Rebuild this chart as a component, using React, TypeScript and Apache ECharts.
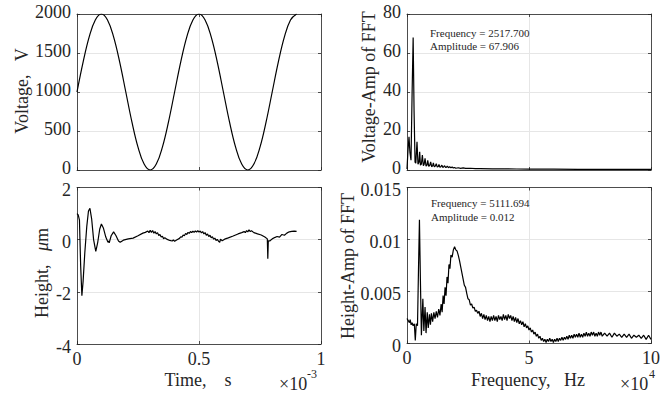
import React, { useEffect, useRef } from "react";
import * as echarts from "echarts";

// ---------- DATA ----------
// Voltage signal (time in ms, value in V)
const voltageTime = [
  0, 0.025, 0.05, 0.075, 0.1, 0.125, 0.15, 0.175, 0.2, 0.225, 0.25, 0.275, 0.3,
  0.325, 0.35, 0.375, 0.4, 0.425, 0.45, 0.475, 0.5, 0.525, 0.55, 0.575, 0.6,
  0.625, 0.65, 0.675, 0.7, 0.725, 0.75, 0.775, 0.8, 0.825, 0.85, 0.875, 0.9,
];
const voltageValues = [
  1000, 1383, 1707, 1924, 2000, 1924, 1707, 1383, 1000, 617, 293, 76, 0, 76,
  293, 617, 1000, 1383, 1707, 1924, 2000, 1924, 1707, 1383, 1000, 617, 293, 76,
  0, 76, 293, 617, 1000, 1383, 1707, 1924, 2000,
];

// Height signal (time in ms, value in μm)
const heightPoints: [number, number][] = [
  [0.0, 1.0], [0.005, 0.95], [0.01, 0.75], [0.015, -1.0], [0.02, -2.15],
  [0.025, -1.6], [0.032, -0.5], [0.04, 0.5], [0.047, 1.1], [0.053, 1.2],
  [0.06, 0.8], [0.068, 0.0], [0.077, -0.45], [0.085, -0.1], [0.093, 0.4],
  [0.1, 0.6], [0.108, 0.45], [0.118, 0.1], [0.127, -0.1], [0.13, -0.05],
  [0.132, -0.12], [0.14, 0.15], [0.15, 0.3], [0.16, 0.15], [0.17, -0.05],
  [0.177, -0.1], [0.19, -0.02], [0.21, 0.03], [0.23, 0.06], [0.25, 0.15],
  [0.27, 0.25], [0.28, 0.28], [0.29, 0.33], [0.295, 0.27], [0.3, 0.36],
  [0.305, 0.28], [0.31, 0.35], [0.315, 0.25], [0.32, 0.31], [0.325, 0.22],
  [0.33, 0.27], [0.335, 0.16], [0.34, 0.2], [0.345, 0.1], [0.35, 0.13],
  [0.355, 0.04], [0.36, 0.07], [0.37, 0.01], [0.38, -0.03], [0.39, -0.05],
  [0.395, -0.01], [0.4, -0.06], [0.41, 0.0], [0.42, 0.05], [0.425, 0.11],
  [0.43, 0.09], [0.435, 0.18], [0.44, 0.15], [0.445, 0.24], [0.45, 0.2],
  [0.455, 0.28], [0.46, 0.24], [0.465, 0.31], [0.47, 0.27], [0.475, 0.33],
  [0.48, 0.28], [0.485, 0.34], [0.49, 0.29], [0.495, 0.35], [0.5, 0.29],
  [0.505, 0.33], [0.51, 0.26], [0.515, 0.31], [0.52, 0.22], [0.525, 0.27],
  [0.53, 0.17], [0.535, 0.22], [0.54, 0.12], [0.545, 0.17], [0.55, 0.07],
  [0.555, 0.11], [0.56, 0.02], [0.565, 0.06], [0.57, -0.03], [0.575, 0.01],
  [0.58, -0.06], [0.585, -0.1], [0.588, 0.02], [0.595, -0.04], [0.605, 0.02],
  [0.62, 0.07], [0.64, 0.14], [0.66, 0.22], [0.675, 0.27], [0.685, 0.31],
  [0.69, 0.27], [0.695, 0.35], [0.7, 0.3], [0.705, 0.38], [0.71, 0.31],
  [0.715, 0.34], [0.725, 0.27], [0.74, 0.22], [0.755, 0.18], [0.77, 0.1],
  [0.78, 0.03], [0.782, -0.73], [0.784, -0.05], [0.79, -0.05], [0.8, 0.03],
  [0.81, 0.08], [0.82, 0.12], [0.83, 0.1], [0.84, 0.2], [0.85, 0.17],
  [0.86, 0.25], [0.87, 0.3], [0.88, 0.32], [0.89, 0.33], [0.9, 0.32],
];

// Voltage FFT (frequency in Hz, amplitude)
const voltageFftPoints: [number, number][] = [
  [0, 0.5], [400, 10], [820, 17], [1200, 9], [1640, 5], [2100, 40], [2520, 68],
  [2900, 30], [3300, 4], [3600, 3.5], [4100, 14.5], [4500, 3], [4900, 4],
  [5200, 9.4], [5500, 2.5], [5900, 3], [6300, 7.7], [6700, 2.2], [7000, 2.8],
  [7400, 6], [7800, 2], [8200, 2.5], [8500, 5], [8900, 1.9], [9300, 2.3],
  [9700, 4.2], [10100, 1.7], [10500, 2.1], [10800, 3.6], [11200, 1.6],
  [11600, 2], [12000, 3.2], [12400, 1.5], [12800, 1.8], [13100, 2.8],
  [13500, 1.4], [13900, 1.7], [14300, 2.5], [14700, 1.3], [15000, 1.6],
  [15400, 2.2], [15800, 1.3], [16200, 1.5], [16500, 2], [17000, 1.2],
  [17500, 1.7], [18000, 1.1], [18500, 1.5], [19000, 1.0], [19500, 1.3],
  [20000, 0.9], [21000, 1.15], [22000, 0.85], [23000, 1.05], [24000, 0.8],
  [26000, 0.9], [28000, 0.7], [30000, 0.75], [35000, 0.6], [40000, 0.55],
  [45000, 0.5], [50000, 0.45], [60000, 0.4], [70000, 0.35], [80000, 0.3],
  [90000, 0.3], [100000, 0.3],
];

// Height FFT (frequency in Hz, amplitude)
const heightFftPoints: [number, number][] = [
  [0, 0.0024], [500, 0.0022], [1000, 0.002], [1300, 0.0023], [1700, 0.0018],
  [2100, 0.002], [2500, 0.0017], [3000, 0.0019], [3400, 0.0003], [3800, 0.0019],
  [4300, 0.0017], [4700, 0.007], [5100, 0.0119], [5500, 0.006], [5900, 0.0008],
  [6500, 0.0043], [6900, 0.0012], [7400, 0.0035], [7800, 0.001], [8300, 0.003],
  [8700, 0.0015], [9200, 0.0028], [9600, 0.0018], [10000, 0.0029],
  [10500, 0.0021], [11000, 0.003], [11500, 0.0024], [12000, 0.0031],
  [12500, 0.0025], [13000, 0.0033], [13500, 0.0027], [14000, 0.0038],
  [14400, 0.003], [14800, 0.0046], [15200, 0.0038], [15600, 0.0054],
  [16000, 0.0046], [16400, 0.0064], [16800, 0.0058], [17200, 0.0076],
  [17600, 0.0072], [18000, 0.0085], [18500, 0.0083], [19000, 0.009],
  [19500, 0.0093], [20000, 0.009], [20500, 0.0089], [21000, 0.0085],
  [21500, 0.008], [22000, 0.0074], [22500, 0.0068], [23000, 0.0062],
  [23500, 0.0056], [24000, 0.0054], [24500, 0.0048], [25000, 0.0043],
  [25500, 0.0042], [26000, 0.0037], [26500, 0.0038], [27000, 0.0034],
  [27500, 0.0035], [28000, 0.0031], [28500, 0.0032], [29000, 0.0029],
  [29500, 0.0031], [30000, 0.0026], [30500, 0.0029], [31000, 0.0024],
  [31500, 0.0028], [32000, 0.0023], [32500, 0.0027], [33000, 0.0022],
  [33500, 0.0026], [34000, 0.0021], [34500, 0.0026], [35000, 0.0022],
  [35500, 0.0027], [36000, 0.0022], [36500, 0.0026], [37000, 0.0021],
  [37500, 0.0027], [38000, 0.0023], [38500, 0.0026], [39000, 0.0022],
  [39500, 0.0028], [40000, 0.0023], [40500, 0.0027], [41000, 0.0022],
  [41500, 0.0028], [42000, 0.0024], [42500, 0.0027], [43000, 0.0022],
  [43500, 0.0026], [44000, 0.0021], [44500, 0.0025], [45000, 0.002],
  [45500, 0.0024], [46000, 0.0019], [46500, 0.0022], [47000, 0.0018],
  [47500, 0.0021], [48000, 0.0016], [48500, 0.0019], [49000, 0.0015],
  [49500, 0.0017], [50000, 0.0013], [50500, 0.0015], [51000, 0.0011],
  [51500, 0.0013], [52000, 0.0009], [52500, 0.0011], [53000, 0.0007],
  [53500, 0.0009], [54000, 0.0005], [54500, 0.0007], [55000, 0.0003],
  [55500, 0.0005], [56000, 0.0002], [56500, 0.0004], [57000, 0.0001],
  [57500, 0.0004], [58000, 0.0002], [58500, 0.0005], [59000, 0.0002],
  [59500, 0.0004], [60000, 0.0001], [60500, 0.0004], [61000, 0.0002],
  [61500, 0.0005], [62000, 0.0002], [62500, 0.0005], [63000, 0.0003],
  [63500, 0.0006], [64000, 0.0003], [64500, 0.0006], [65000, 0.0004],
  [65500, 0.0007], [66000, 0.0004], [66500, 0.0008], [67000, 0.0005],
  [67500, 0.0008], [68000, 0.0005], [68500, 0.0009], [69000, 0.0006],
  [69500, 0.0009], [70000, 0.0006], [70500, 0.001], [71000, 0.0006],
  [71500, 0.0009], [72000, 0.0006], [72500, 0.001], [73000, 0.0007],
  [73500, 0.0011], [74000, 0.0007], [74500, 0.001], [75000, 0.0007],
  [75500, 0.0011], [76000, 0.0008], [76500, 0.0011], [77000, 0.0007],
  [77500, 0.001], [78000, 0.0007], [78500, 0.0011], [79000, 0.0008],
  [79500, 0.0011], [80000, 0.0007], [81000, 0.001], [82000, 0.0007],
  [83000, 0.001], [84000, 0.0006], [85000, 0.001], [86000, 0.0007],
  [87000, 0.0009], [88000, 0.0006], [89000, 0.0009], [90000, 0.0006],
  [91000, 0.0009], [92000, 0.0005], [93000, 0.0008], [94000, 0.0006],
  [95000, 0.0008], [96000, 0.0005], [97000, 0.0008], [98000, 0.0004],
  [99000, 0.0008], [100000, 0.0004],
];

// Axis ranges / ticks
const timeAxis = { min: 0, max: 1, interval: 0.5 };
const freqAxis = { min: 0, max: 100000, interval: 50000 };
const voltageAxis = { min: 0, max: 2000, interval: 500 };
const heightAxis = { min: -4, max: 2, interval: 2 };
const voltageFftAxis = { min: 0, max: 80, interval: 20 };
const heightFftAxis = { min: 0, max: 0.015, interval: 0.005 };

const voltageAnnotation = ["Frequency = 2517.700", "Amplitude = 67.906"];
const heightAnnotation = ["Frequency = 5111.694", "Amplitude = 0.012"];

// ---------- STYLE ----------
const FONT = "'Liberation Serif', 'Times New Roman', serif";
const AXIS_COLOR = "#262626";
const GRID_COLOR = "#e6e6e6";

const grids = [
  { left: 77, top: 14, width: 244, height: 156 },
  { left: 77, top: 187.5, width: 244, height: 156.5 },
  { left: 407, top: 14, width: 244, height: 156 },
  { left: 407, top: 187.5, width: 244, height: 156 },
];

const fmtNum = (v: number) => String(parseFloat(v.toPrecision(6)));

function xAxes(g: number, range: any, showLabels: boolean, labelFmt?: (v: number) => string) {
  const common = {
    type: "value",
    gridIndex: g,
    min: range.min,
    max: range.max,
    interval: range.interval,
    axisLine: { show: true, onZero: false, lineStyle: { color: AXIS_COLOR, width: 0.8 } },
    axisTick: { show: true, inside: true, length: 3, lineStyle: { color: AXIS_COLOR, width: 0.8 } },
  };
  return [
    {
      ...common,
      position: "bottom",
      axisLabel: {
        show: showLabels,
        margin: 8,
        color: AXIS_COLOR,
        fontFamily: FONT,
        fontSize: 18,
        lineHeight: 13,
        formatter: labelFmt || fmtNum,
      },
      splitLine: { show: true, lineStyle: { color: GRID_COLOR, width: 1 } },
    },
    {
      ...common,
      position: "top",
      axisLabel: { show: false },
      splitLine: { show: false },
    },
  ];
}

function yAxes(g: number, range: any, upper: boolean) {
  const common = {
    type: "value",
    gridIndex: g,
    min: range.min,
    max: range.max,
    interval: range.interval,
    axisLine: { show: true, onZero: false, lineStyle: { color: AXIS_COLOR, width: 0.8 } },
    axisTick: { show: true, inside: true, length: 3, lineStyle: { color: AXIS_COLOR, width: 0.8 } },
  };
  return [
    {
      ...common,
      position: "left",
      axisLabel: {
        show: true,
        margin: 6,
        color: AXIS_COLOR,
        fontFamily: FONT,
        fontSize: 18,
        formatter: (v: number) => `{t|${fmtNum(v)}}`,
        rich: {
          t: {
            fontFamily: FONT,
            fontSize: 18,
            color: AXIS_COLOR,
            lineHeight: 12,
            padding: upper ? [0, 0, 4, 0] : [5, 0, 0, 0],
          },
        },
      },
      splitLine: { show: true, lineStyle: { color: GRID_COLOR, width: 1 } },
    },
    {
      ...common,
      position: "right",
      axisLabel: { show: false },
      splitLine: { show: false },
    },
  ];
}

function textEl(text: string, x: number, y: number, size: number, opts: any = {}) {
  return {
    type: "text",
    x,
    y,
    rotation: opts.rotation || 0,
    silent: true,
    z: 100,
    style: {
      text,
      fill: AXIS_COLOR,
      font: `${size}px ${FONT}`,
      lineHeight: opts.lineHeight,
      align: opts.align || "left",
      verticalAlign: opts.verticalAlign || "middle",
      textAlign: opts.align || "left",
      textVerticalAlign: opts.verticalAlign || "middle",
      rich: opts.rich,
    },
  };
}

export default function App() {
  const ref = useRef<HTMLDivElement>(null);

  useEffect(() => {
    if (!ref.current) return;
    const chart = echarts.init(ref.current, undefined, { renderer: "svg" });

    const lineStyle = { color: "#000", width: 1.2 };

    const option: any = {
      animation: false,
      backgroundColor: "#fff",
      grid: grids.map((g) => ({ ...g, containLabel: false })),
      xAxis: [
        ...xAxes(0, timeAxis, false),
        ...xAxes(1, timeAxis, true),
        ...xAxes(2, freqAxis, false),
        ...xAxes(3, freqAxis, true, (v: number) => String(v / 10000)),
      ],
      yAxis: [
        ...yAxes(0, voltageAxis, true),
        ...yAxes(1, heightAxis, false),
        ...yAxes(2, voltageFftAxis, true),
        ...yAxes(3, heightFftAxis, false),
      ],
      series: [
        {
          type: "line",
          xAxisIndex: 0,
          yAxisIndex: 0,
          data: voltageTime.map((t, i) => [t, voltageValues[i]]),
          smooth: 0.4,
          showSymbol: false,
          lineStyle,
        },
        {
          type: "line",
          xAxisIndex: 2,
          yAxisIndex: 2,
          data: heightPoints,
          showSymbol: false,
          lineStyle,
        },
        {
          type: "line",
          xAxisIndex: 4,
          yAxisIndex: 4,
          data: voltageFftPoints,
          showSymbol: false,
          lineStyle,
        },
        {
          type: "line",
          xAxisIndex: 6,
          yAxisIndex: 6,
          data: heightFftPoints,
          showSymbol: false,
          lineStyle,
        },
      ],
      graphic: [
        textEl("Voltage,   V", 22, 91, 18, { rotation: Math.PI / 2, align: "center" }),
        textEl("{n|Height,   }{i|μ}{n|m}", 42, 273, 18, {
          rotation: Math.PI / 2,
          align: "center",
          rich: {
            n: { fontFamily: FONT, fontSize: 18, fill: AXIS_COLOR },
            i: { fontFamily: FONT, fontSize: 18, fontStyle: "italic", fill: AXIS_COLOR },
          },
        }),
        textEl("Voltage-Amp of FFT", 369, 87, 18, { rotation: Math.PI / 2, align: "center" }),
        textEl("Height-Amp of FFT", 348, 266, 18, { rotation: Math.PI / 2, align: "center" }),
        textEl("Time,    s", 198, 380, 18, { align: "center" }),
        textEl("×10", 279, 384, 18, { lineHeight: 13 }),
        textEl("-3", 307, 374, 12, { lineHeight: 9 }),
        textEl("Frequency,   Hz", 528, 380, 18, { align: "center" }),
        textEl("×10", 620, 384, 18, { lineHeight: 13 }),
        textEl("4", 649, 374, 12, { lineHeight: 9 }),
        textEl(voltageAnnotation[0], 430, 33, 11),
        textEl(voltageAnnotation[1], 430, 46, 11),
        textEl(heightAnnotation[0], 431, 203, 11),
        textEl(heightAnnotation[1], 431, 217, 11),
      ],
    };

    chart.setOption(option);
    return () => chart.dispose();
  }, []);

  return (
    <div
      ref={ref}
      style={{ position: "fixed", left: 0, top: 0, width: 670, height: 398, background: "#fff" }}
    />
  );
}
